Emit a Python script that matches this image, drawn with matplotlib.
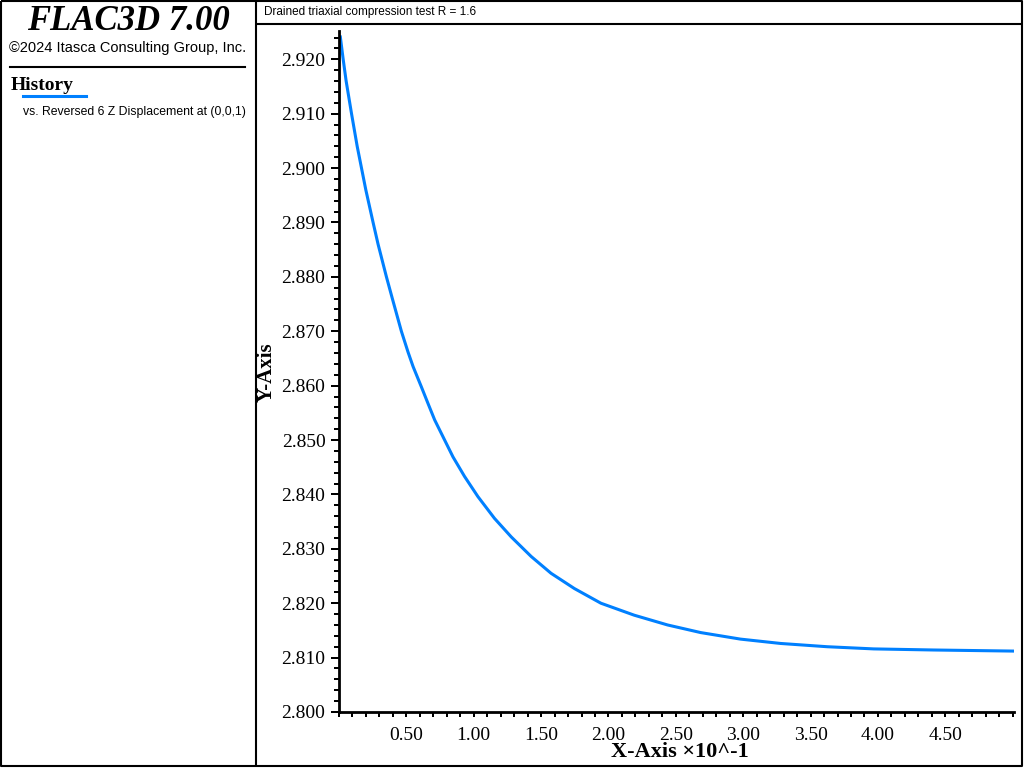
import matplotlib.pyplot as plt
from matplotlib.ticker import MultipleLocator, FormatStrFormatter, FixedLocator

# History values (x in units of 10^-1)
x_vals = [0.010, 0.031, 0.053, 0.093, 0.135, 0.167, 0.199, 0.253, 0.290, 0.352,
          0.396, 0.463, 0.512, 0.550, 0.611, 0.661, 0.710, 0.772, 0.846, 0.932,
          1.031, 1.154, 1.278, 1.426, 1.574, 1.747, 1.944, 2.191, 2.439, 2.685,
          2.980, 3.278, 3.624, 3.969, 4.413, 5.006]
y_vals = [2.9241, 2.9200, 2.9160, 2.9100, 2.9040, 2.9000, 2.8960, 2.8900, 2.8860, 2.8800,
          2.8760, 2.8700, 2.8662, 2.8635, 2.8598, 2.8567, 2.8537, 2.8506, 2.8469, 2.8433,
          2.8396, 2.8356, 2.8322, 2.8286, 2.8255, 2.8227, 2.8200, 2.8178, 2.8160, 2.8146,
          2.8134, 2.8126, 2.8120, 2.8116, 2.8114, 2.8112]

x_ticks = [0.5, 1.0, 1.5, 2.0, 2.5, 3.0, 3.5, 4.0, 4.5]

title = "FLAC3D 7.00"
copyright_text = "\u00a92024 Itasca Consulting Group, Inc."
legend_title = "History"
legend_label = "vs. Reversed 6 Z Displacement at (0,0,1)"
plot_title = "Drained triaxial compression test R = 1.6"

W, H = 1024, 768
fig = plt.figure(figsize=(W / 100, H / 100), dpi=100)
fig.patch.set_facecolor("white")

# overlay in pixel coordinates for frames and side panel
ov = fig.add_axes([0, 0, 1, 1])
ov.set_xlim(0, W)
ov.set_ylim(H, 0)
ov.axis("off")

frame_kw = dict(color="black", lw=1.5, solid_capstyle="butt")
ov.plot([1, 1022, 1022, 1, 1], [1, 1, 766, 766, 1], **frame_kw)
ov.plot([256, 256], [1, 766], **frame_kw)
ov.plot([256, 1022], [24, 24], **frame_kw)
ov.plot([10, 245], [67, 67], color="black", lw=1.5)

serif = ["Liberation Serif", "DejaVu Serif"]
sans = ["Liberation Sans", "DejaVu Sans"]
ov.text(128, 22, title, family=serif, style="italic", fontweight="bold",
        fontsize=25, ha="center", va="center")
ov.text(128, 48, copyright_text, family=sans, fontsize=10.5, ha="center", va="center")
ov.text(11, 86, legend_title, family=serif, fontweight="bold", fontsize=14,
        ha="left", va="center")
ov.plot([23, 86], [96, 96], color="#0080ff", lw=2.2)
ov.text(23, 112, legend_label, family=sans, fontsize=8.8, ha="left", va="center")
ov.text(264, 12, plot_title, family=sans, fontsize=8.5, ha="left", va="center")

# main plot area
left, right, bottom, top = 339, 1014, 712, 31
ax = fig.add_axes([left / W, 1 - bottom / H, (right - left) / W, (bottom - top) / H])
ax.patch.set_alpha(0)
ax.plot(x_vals, y_vals, color="#0080ff", lw=2.2)
ax.set_xlim(0, 5.01)
ax.set_ylim(2.800, 2.9252)

for s in ["top", "right"]:
    ax.spines[s].set_visible(False)
for s in ["left", "bottom"]:
    ax.spines[s].set_linewidth(2)

ax.yaxis.set_major_locator(MultipleLocator(0.010))
ax.yaxis.set_minor_locator(MultipleLocator(0.002))
ax.yaxis.set_major_formatter(FormatStrFormatter("%.3f"))
ax.xaxis.set_major_locator(FixedLocator(x_ticks))
ax.xaxis.set_minor_locator(MultipleLocator(0.1))
ax.xaxis.set_major_formatter(FormatStrFormatter("%.2f"))

ax.tick_params(axis="y", which="major", length=5.8, width=1.44, pad=4)
ax.tick_params(axis="y", which="minor", length=3.6, width=1.44)
ax.tick_params(axis="x", which="both", length=3.6, width=1.44, pad=7)
for lab in ax.get_xticklabels() + ax.get_yticklabels():
    lab.set_family(serif)
    lab.set_fontsize(14)

ax.set_xlabel("X-Axis \u00d710^-1", family=serif, fontweight="bold", fontsize=16, labelpad=0)
ax.set_ylabel("Y-Axis", family=serif, fontweight="bold", fontsize=15, labelpad=0)
ax.xaxis.set_label_coords((680 - left) / (right - left), -(742 - bottom) / (bottom - top))
ax.yaxis.set_label_coords(-(339 - 277) / (right - left), (bottom - 372) / (bottom - top))

fig.savefig("out.png", dpi=100)
